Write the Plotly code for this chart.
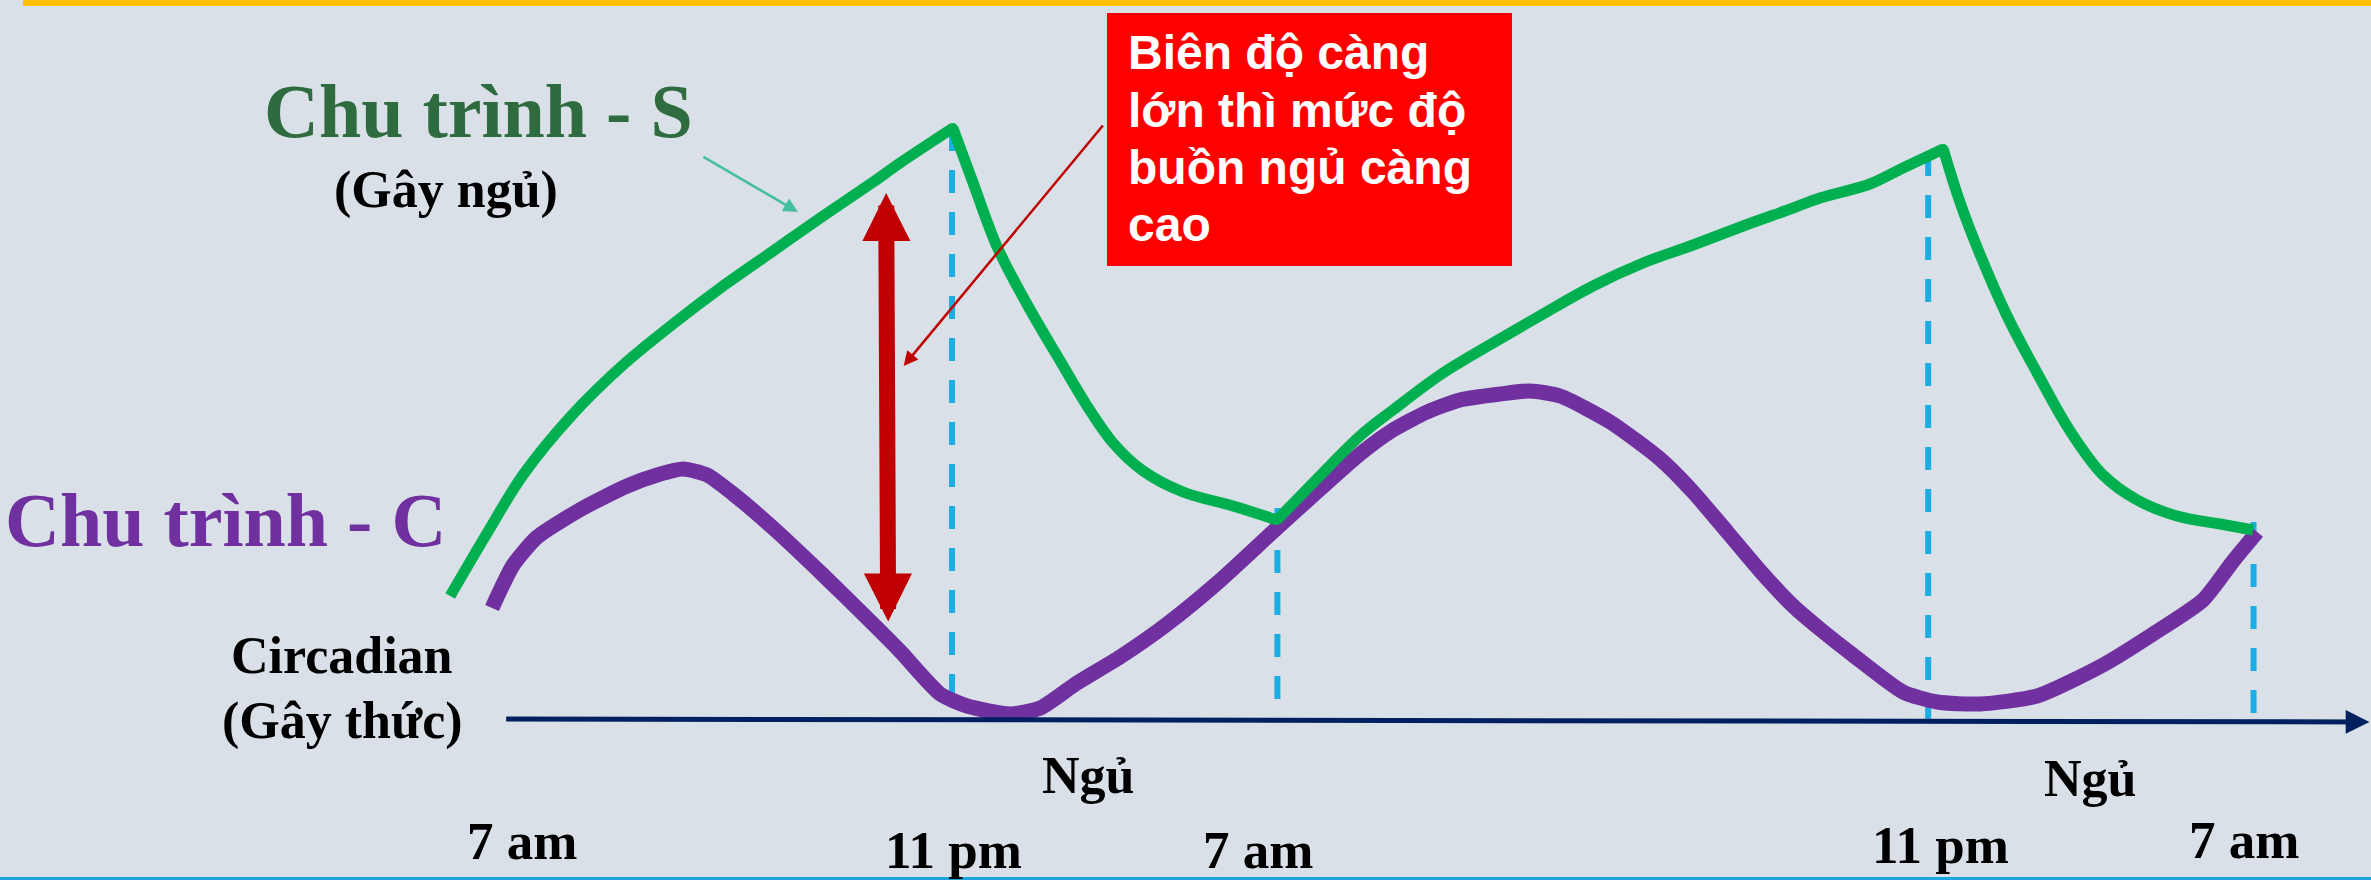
import plotly.graph_objects as go

W, H = 2371, 880
BG = "#D9E0E8"
SERIF = "Liberation Serif, Times New Roman, serif"
SANS = "Liberation Sans, Arial, sans-serif"
S_COLOR = "#00B050"
C_COLOR = "#7030A0"

# Hours after 7 am of the first day; level in arbitrary units above the time axis
s_hours = [3.66, 4.57, 5.45, 6.68, 7.91, 9.14, 10.37, 11.60, 12.83, 14.06, 14.72, 16.02,
           16.51, 17.11, 17.84, 18.66, 19.32, 19.96, 20.70, 21.68, 22.91, 23.99,
           24.97, 26.03, 26.84, 28.07, 29.30, 30.53, 31.76, 32.99, 34.22, 35.45,
           36.68, 37.34, 38.57, 39.38, 40.37,
           40.78, 41.28, 41.94, 42.68, 43.49, 44.30, 45.14, 46.12, 47.18, 47.99]
s_level = [123, 186, 244, 305, 354, 395, 433, 468, 503, 537, 556, 591,
           537, 472, 415, 358, 313, 276, 248, 227, 213, 199,
           240, 283, 309, 346, 376, 405, 433, 456, 474, 493,
           511, 521, 535, 551, 570,
           517, 464, 403, 346, 288, 244, 219, 203, 195, 189]

c_hours = [4.69, 5.21, 5.80, 6.93, 8.01, 8.75, 9.39, 9.98, 10.62, 11.60,
           12.83, 14.06, 14.72, 15.71, 16.37, 17.43, 18.17, 19.07, 20.13, 21.29,
           22.52, 23.99, 24.97, 26.03, 26.84, 27.68, 28.49, 29.48, 30.21, 30.95,
           32.18, 33.41, 34.22, 35.06, 35.87, 36.68, 37.34, 38.15, 39.38, 40.22,
           41.28, 42.68, 44.30, 45.53, 46.76, 47.50, 48.09]
c_level = [111, 154, 182, 211, 233, 244, 250, 244, 225, 191,
           144, 95, 68, 25, 13, 5, 11, 36, 62, 95,
           136, 191, 227, 265, 289, 307, 319, 325, 328, 323,
           297, 260, 227, 187, 148, 113, 90, 64, 27, 17,
           15, 23, 54, 85, 119, 158, 187]

# Sleep onset / wake markers (11 pm, 7 am, 11 pm, 7 am)
mark_hours = [16, 24, 40, 48]
mark_top = [591, 211, 566, 197]
mark_bottom = [19, -1, -5, -13]

time_labels = ["7 am", "11 pm", "7 am", "11 pm", "7 am"]
sleep_label = "Ngủ"
note_lines = ["Biên độ càng", "lớn thì mức độ", "buồn ngủ càng", "cao"]

fig = go.Figure()

# dashed markers behind the curves
for h, top, bot in zip(mark_hours, mark_top, mark_bottom):
    fig.add_trace(go.Scatter(x=[h, h], y=[top, bot], mode="lines",
                             line=dict(color="#1BADE3", width=6, dash="23px,19px"),
                             hoverinfo="skip"))

fig.add_trace(go.Scatter(x=c_hours, y=c_level, mode="lines",
                         line=dict(color=C_COLOR, width=15, shape="spline", smoothing=0.6),
                         name="Chu trình - C"))

# Process S: smooth between turning points, sharp at the wake / sleep switches
n = len(s_level)
turns = [i for i in range(1, n - 1)
         if (s_level[i] - s_level[i - 1]) * (s_level[i + 1] - s_level[i]) < 0]
bounds = [0] + turns + [n - 1]
for a, b in zip(bounds[:-1], bounds[1:]):
    fig.add_trace(go.Scatter(x=s_hours[a:b + 1], y=s_level[a:b + 1], mode="lines",
                             line=dict(color=S_COLOR, width=11, shape="spline", smoothing=1.0),
                             name="Chu trình - S"))
fig.add_trace(go.Scatter(x=[s_hours[i] for i in turns], y=[s_level[i] for i in turns],
                         mode="markers", marker=dict(color=S_COLOR, size=10, line_width=0),
                         hoverinfo="skip"))


def px(x):
    return x / W


def py(y):
    return 1 - y / H


def label(text, cx, cy, size, color="black", family=SERIF, anchor="center"):
    fig.add_annotation(text=f"<b>{text}</b>", x=px(cx), y=py(cy), xref="paper", yref="paper",
                       xanchor=anchor, yanchor="middle", showarrow=False,
                       font=dict(family=family, size=size, color=color))


def arrow(x0, y0, x1, y1, color, width, head, size, side="end"):
    fig.add_annotation(x=x1, y=y1, ax=x0, ay=y0, xref="x", yref="y", axref="x", ayref="y",
                       text="", showarrow=True, arrowcolor=color, arrowwidth=width,
                       arrowhead=head, arrowsize=size, startarrowhead=head,
                       startarrowsize=size, arrowside=side, standoff=0, startstandoff=0)


# time axis
arrow(5.00, 0, 50.85, -3, "#002060", 5, 2, 0.95)

# decorations: top and bottom rules, note box
fig.add_shape(type="rect", xref="paper", yref="paper", x0=px(23), x1=1, y0=py(6), y1=1,
              fillcolor="#FFC000", line_width=0)
fig.add_shape(type="rect", xref="paper", yref="paper", x0=0, x1=1, y0=0, y1=py(877),
              fillcolor="#1CA5DF", line_width=0)
fig.add_shape(type="rect", xref="paper", yref="paper", x0=px(1107), x1=px(1512),
              y0=py(266), y1=py(13), fillcolor="#FF0000", line_width=0)

for line, cy in zip(note_lines, [52.5, 110.5, 167.5, 224.5]):
    label(line, 1126, cy, 48, "white", SANS, "left")

# amplitude arrow and pointers
arrow(14.43, 96, 14.38, 526, "#C00000", 16, 2, 0.6, "end+start")
arrow(19.74, 595, 14.81, 353, "#C00000", 2.5, 2, 1.15)
arrow(9.85, 563, 12.21, 507, "#45BF9F", 2.5, 2, 1.15)

# text labels
label("Chu trình - S", 478, 111, 76, "#2E6B3E")
label("(Gây ngủ)", 446, 190, 52)
label("Chu trình - C", 225, 520, 76, C_COLOR)
label("Circadian", 342, 655, 52)
label("(Gây thức)", 342, 721, 52)
label(sleep_label, 1088, 775, 52)
label(sleep_label, 2090, 778, 52)
for text, cx, cy in zip(time_labels, [522, 953, 1258, 1940, 2244], [841, 850, 850, 845, 840]):
    label(text, cx, cy, 53)

fig.update_layout(
    width=W, height=H, margin=dict(l=0, r=0, t=0, b=0),
    paper_bgcolor=BG, plot_bgcolor=BG, showlegend=False,
    xaxis=dict(range=[-7.408, 50.888], visible=False, fixedrange=True),
    yaxis=dict(range=[-161, 719], visible=False, fixedrange=True),
)

fig.write_html("out.html", config={"displayModeBar": False})
